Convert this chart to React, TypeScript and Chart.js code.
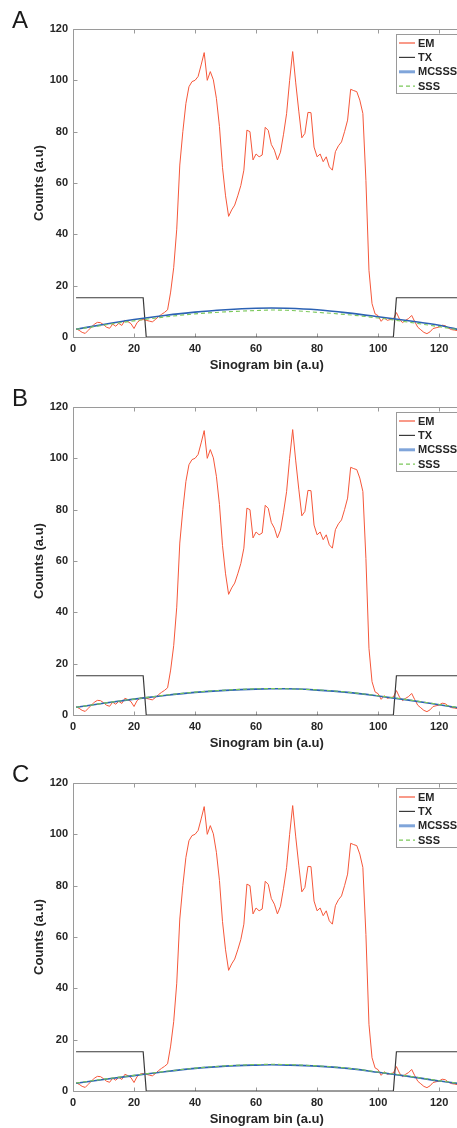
import React, { useEffect, useRef } from 'react';
import { Chart, registerables } from 'chart.js';

Chart.register(...registerables);

const FONT = '"Liberation Sans", Arial, Helvetica, sans-serif';

// ---------- data ----------
const BINS: number[] = Array.from({ length: 127 }, (_, i) => i + 1);

const EM_COUNTS: number[] = [
  3.2, 2.6, 1.8, 1.4, 2.6, 3.8, 5.0, 5.7, 5.6, 4.8,
  3.8, 3.4, 5.0, 4.2, 5.3, 4.5, 6.5, 6.0, 5.2, 3.3,
  5.6, 6.6, 6.8, 6.5, 6.2, 5.9, 6.8, 7.9, 8.8, 9.6,
  10.6, 17.5, 27, 42, 67, 80, 91, 97.5, 99.5, 100,
  101.5, 106, 110.8, 100, 103.4, 100.2, 93, 82, 66, 55,
  47, 49.5, 51.4, 55, 59, 65, 80.6, 80, 69, 71.3,
  70.2, 70.9, 81.7, 80.5, 75, 72.8, 69, 72, 79, 87,
  100, 111.2, 99, 88, 77.6, 79.3, 87.5, 87.4, 74, 70.2,
  71.3, 68.3, 70.2, 66.3, 65, 72.2, 74.5, 76, 80, 84.5,
  96.5, 96, 95.6, 92.3, 87.1, 61, 26, 13, 9, 8.3,
  6.1, 7.5, 6.5, 6.8, 7.0, 9.5, 7.0, 5.6, 6.5, 7.2,
  8.4, 6.0, 3.8, 2.8, 1.8, 1.3, 2.0, 3.3, 3.6, 3.9,
  4.6, 4.4, 3.5, 2.9, 2.7, 2.5, 2.4,
];

const TX_BINS: number[] = [1, 23, 24, 105, 106, 127];
const TX_VALUES: number[] = [15.3, 15.3, 0, 0, 15.3, 15.3];

const SMOOTH_BINS: number[] = [1, 10, 20, 30, 40, 50, 60, 65, 70, 80, 90, 100, 110, 120, 127];
const MCSSS_A: number[] = [3.0, 4.9, 6.8, 8.4, 9.7, 10.6, 11.2, 11.3, 11.2, 10.6, 9.4, 7.9, 6.3, 4.6, 2.7];
const SSS_A: number[] = [3.0, 4.6, 6.3, 7.8, 9.0, 9.8, 10.3, 10.5, 10.4, 9.6, 8.7, 7.4, 5.8, 4.0, 2.7];
const MCSSS_B: number[] = [3.0, 4.6, 6.2, 7.6, 8.8, 9.6, 10.1, 10.2, 10.2, 9.7, 8.8, 7.4, 5.8, 4.0, 2.7];
const SSS_B: number[] = [3.0, 4.6, 6.2, 7.7, 8.9, 9.7, 10.2, 10.3, 10.2, 9.8, 8.9, 7.5, 5.9, 4.1, 2.8];
const MCSSS_C: number[] = [3.0, 4.5, 6.0, 7.5, 8.8, 9.7, 10.1, 10.2, 10.1, 9.7, 8.8, 7.3, 5.7, 3.9, 2.8];
const SSS_C: number[] = [3.1, 4.6, 6.1, 7.6, 8.9, 9.8, 10.3, 10.4, 10.3, 9.8, 8.9, 7.4, 5.8, 4.0, 2.9];

const PANEL_LABELS: string[] = ['A', 'B', 'C'];
const X_TICKS: number[] = [0, 20, 40, 60, 80, 100, 120];
const Y_TICKS: number[] = [0, 20, 40, 60, 80, 100, 120];
const LEGEND_LABELS: string[] = ['EM', 'TX', 'MCSSS', 'SSS'];
const X_TITLE = 'Sinogram bin (a.u)';
const Y_TITLE = 'Counts (a.u)';

// ---------- styles ----------
const EM_COLOR = '#f5573a';
const TX_COLOR = '#3a3a3a';
const MCSSS_COLOR = '#2c62b4';
const MCSSS_LEGEND_COLOR = '#80a5da';
const SSS_COLOR = '#7bc85a';
const AXIS_COLOR = '#9a9a9a';
const TEXT_COLOR = '#262626';

const CANVAS_W = 470;
const CANVAS_H = 378;
const PANEL_TOPS = [0, 378, 754];

const pts = (xs: number[], ys: number[]) => xs.map((x, i) => ({ x, y: ys[i] }));

function makeDecor(label: string) {
  return {
    id: 'decor' + label,
    beforeDatasetsDraw(chart: any) {
      const { ctx, chartArea: a, scales } = chart;
      ctx.save();
      ctx.strokeStyle = AXIS_COLOR;
      ctx.lineWidth = 1;
      const l = Math.round(a.left) + 0.5;
      const t = Math.round(a.top) + 0.5;
      const r = Math.round(a.right) + 0.5;
      const b = Math.round(a.bottom) + 0.5;
      ctx.beginPath();
      ctx.moveTo(l, t); ctx.lineTo(r, t); ctx.lineTo(r, b); ctx.lineTo(l, b); ctx.closePath();
      X_TICKS.forEach((v) => {
        const px = Math.round(scales.x.getPixelForValue(v)) + 0.5;
        ctx.moveTo(px, b); ctx.lineTo(px, b - 4);
        ctx.moveTo(px, t); ctx.lineTo(px, t + 4);
      });
      Y_TICKS.forEach((v) => {
        const py = Math.round(scales.y.getPixelForValue(v)) + 0.5;
        ctx.moveTo(l, py); ctx.lineTo(l + 4, py);
        ctx.moveTo(r, py); ctx.lineTo(r - 4, py);
      });
      ctx.stroke();
      ctx.restore();
    },
    afterDraw(chart: any) {
      const { ctx } = chart;
      ctx.save();
      // panel letter
      ctx.fillStyle = '#1a1a1a';
      ctx.font = '24px ' + FONT;
      ctx.textAlign = 'left';
      ctx.textBaseline = 'alphabetic';
      ctx.fillText(label, 12, 27.5);
      // legend box
      const bx = 396.5, by = 34.5, bw = 80, bh = 59;
      ctx.fillStyle = '#ffffff';
      ctx.fillRect(bx, by, bw, bh);
      ctx.strokeStyle = AXIS_COLOR;
      ctx.lineWidth = 1;
      ctx.strokeRect(bx, by, bw, bh);
      const colors = [EM_COLOR, TX_COLOR, MCSSS_LEGEND_COLOR, SSS_COLOR];
      const widths = [1.2, 1.2, 3, 1.2];
      LEGEND_LABELS.forEach((name, i) => {
        const y = 43 + i * 14.4;
        ctx.beginPath();
        ctx.strokeStyle = colors[i];
        ctx.lineWidth = widths[i];
        ctx.setLineDash(i === 3 ? [4, 3] : []);
        ctx.moveTo(399, y);
        ctx.lineTo(415, y);
        ctx.stroke();
        ctx.setLineDash([]);
        ctx.fillStyle = TEXT_COLOR;
        ctx.font = 'bold 11px ' + FONT;
        ctx.textBaseline = 'middle';
        ctx.fillText(name, 418, y + 0.5);
      });
      ctx.restore();
    },
  };
}

function Panel({ label, mcsss, sss, top }: { label: string; mcsss: number[]; sss: number[]; top: number }) {
  const ref = useRef<HTMLCanvasElement>(null);
  useEffect(() => {
    const tickFont = { family: FONT, size: 11, weight: 'bold' as const };
    const titleFont = { family: FONT, size: 13, weight: 'bold' as const };
    const chart = new Chart(ref.current as HTMLCanvasElement, {
      type: 'line',
      data: {
        datasets: [
          { label: 'EM', data: pts(BINS, EM_COUNTS), borderColor: EM_COLOR, borderWidth: 1, pointRadius: 0, tension: 0, order: 4 },
          { label: 'TX', data: pts(TX_BINS, TX_VALUES), borderColor: TX_COLOR, borderWidth: 1.2, pointRadius: 0, tension: 0, order: 3 },
          { label: 'MCSSS', data: pts(SMOOTH_BINS, mcsss), borderColor: MCSSS_COLOR, borderWidth: 1.6, pointRadius: 0, cubicInterpolationMode: 'monotone', order: 2 },
          { label: 'SSS', data: pts(SMOOTH_BINS, sss), borderColor: SSS_COLOR, borderWidth: 1.1, borderDash: [4, 3], pointRadius: 0, cubicInterpolationMode: 'monotone', order: 1 },
        ],
      } as any,
      options: {
        animation: false,
        responsive: false,
        devicePixelRatio: 1,
        layout: { padding: { left: 0, top: 29, right: 9.5, bottom: 0 } },
        plugins: { legend: { display: false }, tooltip: { enabled: false } },
        scales: {
          x: {
            type: 'linear',
            min: 0,
            max: 127,
            grid: { display: false, drawTicks: false },
            border: { display: false },
            ticks: { stepSize: 20, includeBounds: false, padding: 5.5, font: tickFont, color: TEXT_COLOR, maxRotation: 0, autoSkip: false },
            title: { display: true, text: X_TITLE, font: titleFont, color: TEXT_COLOR, padding: { top: 0, bottom: 5 } },
            afterFit: (s: any) => { s.height = 41; s.paddingLeft = 0; s.paddingRight = 0; },
          },
          y: {
            type: 'linear',
            min: 0,
            max: 120,
            grid: { display: false, drawTicks: false },
            border: { display: false },
            ticks: { stepSize: 20, padding: 5, font: tickFont, color: TEXT_COLOR },
            title: { display: true, text: Y_TITLE, font: titleFont, color: TEXT_COLOR, padding: { top: 32, bottom: 0 } },
            afterFit: (s: any) => { s.width = 73; s.paddingTop = 0; s.paddingBottom = 0; },
          },
        },
      } as any,
      plugins: [makeDecor(label)],
    });
    return () => chart.destroy();
  }, [label, mcsss, sss]);
  return (
    <canvas
      ref={ref}
      width={CANVAS_W}
      height={CANVAS_H}
      style={{ position: 'absolute', left: 0, top, width: CANVAS_W, height: CANVAS_H }}
    />
  );
}

export default function App() {
  const series = [
    [MCSSS_A, SSS_A],
    [MCSSS_B, SSS_B],
    [MCSSS_C, SSS_C],
  ];
  return (
    <div style={{ position: 'absolute', left: 0, top: 0, width: 457, height: 1128, overflow: 'hidden', background: '#ffffff' }}>
      {PANEL_LABELS.map((lab, i) => (
        <Panel key={lab} label={lab} mcsss={series[i][0]} sss={series[i][1]} top={PANEL_TOPS[i]} />
      ))}
    </div>
  );
}
